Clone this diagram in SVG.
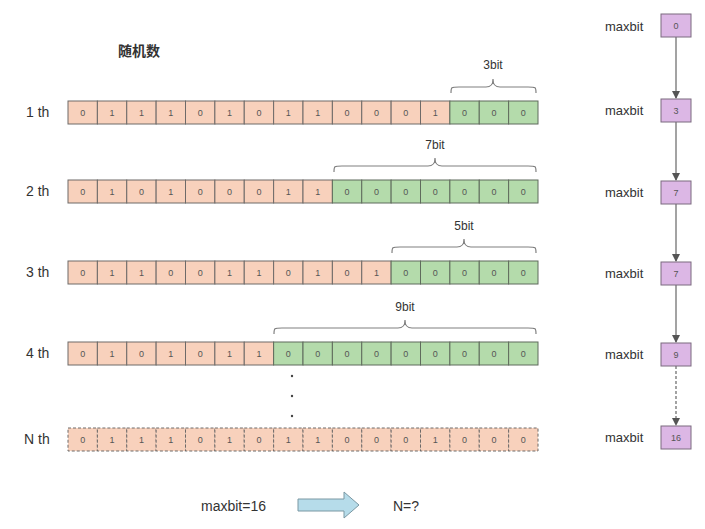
<svg xmlns="http://www.w3.org/2000/svg" width="705" height="529" viewBox="0 0 705 529">
<style>
text{font-family:"Liberation Sans","Noto Sans CJK SC",Arial,sans-serif;fill:#333}
.p{fill:#f8d1bc;stroke:#6e6a68;stroke-width:1}
.g{fill:#b4dbab;stroke:#5f6b5c;stroke-width:1}
.d{stroke-dasharray:3,2}
.c{font-size:9px;text-anchor:middle;fill:#555}
.lbl{font-size:14px}
.br{fill:none;stroke:#808080;stroke-width:1.2}
.bt{font-size:12px;text-anchor:middle}
.nb{fill:#dcb7e5;stroke:#7b6a7f;stroke-width:1}
.nt{font-size:9px;text-anchor:middle;fill:#555}
.ml{font-size:13px}
.cn{stroke:#666;stroke-width:1.2;fill:none}
</style>
<defs>
<marker id="ah" markerWidth="8" markerHeight="8" refX="7" refY="4" orient="auto" markerUnits="userSpaceOnUse">
<path d="M0,0 L8,4 L0,8 Z" fill="#555"/>
</marker>
</defs>
<text x="118" y="56" font-size="14" font-weight="bold">随机数</text>
<g id="row1" transform="translate(0,101)">
<text class="lbl" x="26" y="16">1 th</text>
<rect class="p" x="68" y="0" width="29.375" height="23"/><rect class="p" x="97.375" y="0" width="29.375" height="23"/><rect class="p" x="126.75" y="0" width="29.375" height="23"/><rect class="p" x="156.125" y="0" width="29.375" height="23"/><rect class="p" x="185.5" y="0" width="29.375" height="23"/><rect class="p" x="214.875" y="0" width="29.375" height="23"/><rect class="p" x="244.25" y="0" width="29.375" height="23"/><rect class="p" x="273.625" y="0" width="29.375" height="23"/><rect class="p" x="303" y="0" width="29.375" height="23"/><rect class="p" x="332.375" y="0" width="29.375" height="23"/><rect class="p" x="361.75" y="0" width="29.375" height="23"/><rect class="p" x="391.125" y="0" width="29.375" height="23"/><rect class="p" x="420.5" y="0" width="29.375" height="23"/><rect class="g" x="449.875" y="0" width="29.375" height="23"/><rect class="g" x="479.25" y="0" width="29.375" height="23"/><rect class="g" x="508.625" y="0" width="29.375" height="23"/>
<text class="c" x="82.7" y="15">0</text><text class="c" x="112.1" y="15">1</text><text class="c" x="141.4" y="15">1</text><text class="c" x="170.8" y="15">1</text><text class="c" x="200.2" y="15">0</text><text class="c" x="229.6" y="15">1</text><text class="c" x="258.9" y="15">0</text><text class="c" x="288.3" y="15">1</text><text class="c" x="317.7" y="15">1</text><text class="c" x="347.1" y="15">0</text><text class="c" x="376.4" y="15">0</text><text class="c" x="405.8" y="15">0</text><text class="c" x="435.2" y="15">1</text><text class="c" x="464.6" y="15">0</text><text class="c" x="493.9" y="15">0</text><text class="c" x="523.3" y="15">0</text>
<path class="br" d="M451,-8 C451,-14 451,-14 459,-14 L486,-14 C491,-14 493,-16 493,-22 C493,-16 495,-14 500,-14 L528,-14 C536,-14 536,-14 536,-8"/>
<text class="bt" x="493" y="-32">3bit</text>
</g>
<g id="row2" transform="translate(0,180)">
<text class="lbl" x="26" y="16">2 th</text>
<rect class="p" x="68" y="0" width="29.375" height="23"/><rect class="p" x="97.375" y="0" width="29.375" height="23"/><rect class="p" x="126.75" y="0" width="29.375" height="23"/><rect class="p" x="156.125" y="0" width="29.375" height="23"/><rect class="p" x="185.5" y="0" width="29.375" height="23"/><rect class="p" x="214.875" y="0" width="29.375" height="23"/><rect class="p" x="244.25" y="0" width="29.375" height="23"/><rect class="p" x="273.625" y="0" width="29.375" height="23"/><rect class="p" x="303" y="0" width="29.375" height="23"/><rect class="g" x="332.375" y="0" width="29.375" height="23"/><rect class="g" x="361.75" y="0" width="29.375" height="23"/><rect class="g" x="391.125" y="0" width="29.375" height="23"/><rect class="g" x="420.5" y="0" width="29.375" height="23"/><rect class="g" x="449.875" y="0" width="29.375" height="23"/><rect class="g" x="479.25" y="0" width="29.375" height="23"/><rect class="g" x="508.625" y="0" width="29.375" height="23"/>
<text class="c" x="82.7" y="15">0</text><text class="c" x="112.1" y="15">1</text><text class="c" x="141.4" y="15">0</text><text class="c" x="170.8" y="15">1</text><text class="c" x="200.2" y="15">0</text><text class="c" x="229.6" y="15">0</text><text class="c" x="258.9" y="15">0</text><text class="c" x="288.3" y="15">1</text><text class="c" x="317.7" y="15">1</text><text class="c" x="347.1" y="15">0</text><text class="c" x="376.4" y="15">0</text><text class="c" x="405.8" y="15">0</text><text class="c" x="435.2" y="15">0</text><text class="c" x="464.6" y="15">0</text><text class="c" x="493.9" y="15">0</text><text class="c" x="523.3" y="15">0</text>
<path class="br" d="M334,-8 C334,-14 334,-14 342,-14 L428,-14 C433,-14 435,-16 435,-22 C435,-16 437,-14 442,-14 L528,-14 C536,-14 536,-14 536,-8"/>
<text class="bt" x="435" y="-31">7bit</text>
</g>
<g id="row3" transform="translate(0,261)">
<text class="lbl" x="26" y="16">3 th</text>
<rect class="p" x="68" y="0" width="29.375" height="23"/><rect class="p" x="97.375" y="0" width="29.375" height="23"/><rect class="p" x="126.75" y="0" width="29.375" height="23"/><rect class="p" x="156.125" y="0" width="29.375" height="23"/><rect class="p" x="185.5" y="0" width="29.375" height="23"/><rect class="p" x="214.875" y="0" width="29.375" height="23"/><rect class="p" x="244.25" y="0" width="29.375" height="23"/><rect class="p" x="273.625" y="0" width="29.375" height="23"/><rect class="p" x="303" y="0" width="29.375" height="23"/><rect class="p" x="332.375" y="0" width="29.375" height="23"/><rect class="p" x="361.75" y="0" width="29.375" height="23"/><rect class="g" x="391.125" y="0" width="29.375" height="23"/><rect class="g" x="420.5" y="0" width="29.375" height="23"/><rect class="g" x="449.875" y="0" width="29.375" height="23"/><rect class="g" x="479.25" y="0" width="29.375" height="23"/><rect class="g" x="508.625" y="0" width="29.375" height="23"/>
<text class="c" x="82.7" y="15">0</text><text class="c" x="112.1" y="15">1</text><text class="c" x="141.4" y="15">1</text><text class="c" x="170.8" y="15">0</text><text class="c" x="200.2" y="15">0</text><text class="c" x="229.6" y="15">1</text><text class="c" x="258.9" y="15">1</text><text class="c" x="288.3" y="15">0</text><text class="c" x="317.7" y="15">1</text><text class="c" x="347.1" y="15">0</text><text class="c" x="376.4" y="15">1</text><text class="c" x="405.8" y="15">0</text><text class="c" x="435.2" y="15">0</text><text class="c" x="464.6" y="15">0</text><text class="c" x="493.9" y="15">0</text><text class="c" x="523.3" y="15">0</text>
<path class="br" d="M392,-8 C392,-14 392,-14 400,-14 L457,-14 C462,-14 464,-16 464,-22 C464,-16 466,-14 471,-14 L528,-14 C536,-14 536,-14 536,-8"/>
<text class="bt" x="464" y="-31">5bit</text>
</g>
<g id="row4" transform="translate(0,342)">
<text class="lbl" x="26" y="16">4 th</text>
<rect class="p" x="68" y="0" width="29.375" height="23"/><rect class="p" x="97.375" y="0" width="29.375" height="23"/><rect class="p" x="126.75" y="0" width="29.375" height="23"/><rect class="p" x="156.125" y="0" width="29.375" height="23"/><rect class="p" x="185.5" y="0" width="29.375" height="23"/><rect class="p" x="214.875" y="0" width="29.375" height="23"/><rect class="p" x="244.25" y="0" width="29.375" height="23"/><rect class="g" x="273.625" y="0" width="29.375" height="23"/><rect class="g" x="303" y="0" width="29.375" height="23"/><rect class="g" x="332.375" y="0" width="29.375" height="23"/><rect class="g" x="361.75" y="0" width="29.375" height="23"/><rect class="g" x="391.125" y="0" width="29.375" height="23"/><rect class="g" x="420.5" y="0" width="29.375" height="23"/><rect class="g" x="449.875" y="0" width="29.375" height="23"/><rect class="g" x="479.25" y="0" width="29.375" height="23"/><rect class="g" x="508.625" y="0" width="29.375" height="23"/>
<text class="c" x="82.7" y="15">0</text><text class="c" x="112.1" y="15">1</text><text class="c" x="141.4" y="15">0</text><text class="c" x="170.8" y="15">1</text><text class="c" x="200.2" y="15">0</text><text class="c" x="229.6" y="15">1</text><text class="c" x="258.9" y="15">1</text><text class="c" x="288.3" y="15">0</text><text class="c" x="317.7" y="15">0</text><text class="c" x="347.1" y="15">0</text><text class="c" x="376.4" y="15">0</text><text class="c" x="405.8" y="15">0</text><text class="c" x="435.2" y="15">0</text><text class="c" x="464.6" y="15">0</text><text class="c" x="493.9" y="15">0</text><text class="c" x="523.3" y="15">0</text>
<path class="br" d="M274,-8 C274,-14 274,-14 282,-14 L398,-14 C403,-14 405,-16 405,-22 C405,-16 407,-14 412,-14 L528,-14 C536,-14 536,-14 536,-8"/>
<text class="bt" x="405" y="-31">9bit</text>
</g>
<g id="dots" fill="#444">
<circle cx="292" cy="376" r="1.2"/><circle cx="292" cy="396" r="1.2"/><circle cx="292" cy="416" r="1.2"/>
</g>
<g id="rowN" transform="translate(0,428)">
<text class="lbl" x="24" y="16">N th</text>
<rect class="p d" x="68" y="0" width="29.375" height="23"/><rect class="p d" x="97.375" y="0" width="29.375" height="23"/><rect class="p d" x="126.75" y="0" width="29.375" height="23"/><rect class="p d" x="156.125" y="0" width="29.375" height="23"/><rect class="p d" x="185.5" y="0" width="29.375" height="23"/><rect class="p d" x="214.875" y="0" width="29.375" height="23"/><rect class="p d" x="244.25" y="0" width="29.375" height="23"/><rect class="p d" x="273.625" y="0" width="29.375" height="23"/><rect class="p d" x="303" y="0" width="29.375" height="23"/><rect class="p d" x="332.375" y="0" width="29.375" height="23"/><rect class="p d" x="361.75" y="0" width="29.375" height="23"/><rect class="p d" x="391.125" y="0" width="29.375" height="23"/><rect class="p d" x="420.5" y="0" width="29.375" height="23"/><rect class="p d" x="449.875" y="0" width="29.375" height="23"/><rect class="p d" x="479.25" y="0" width="29.375" height="23"/><rect class="p d" x="508.625" y="0" width="29.375" height="23"/>
<text class="c" x="82.7" y="15">0</text><text class="c" x="112.1" y="15">1</text><text class="c" x="141.4" y="15">1</text><text class="c" x="170.8" y="15">1</text><text class="c" x="200.2" y="15">0</text><text class="c" x="229.6" y="15">1</text><text class="c" x="258.9" y="15">0</text><text class="c" x="288.3" y="15">1</text><text class="c" x="317.7" y="15">1</text><text class="c" x="347.1" y="15">0</text><text class="c" x="376.4" y="15">0</text><text class="c" x="405.8" y="15">0</text><text class="c" x="435.2" y="15">1</text><text class="c" x="464.6" y="15">0</text><text class="c" x="493.9" y="15">0</text><text class="c" x="523.3" y="15">0</text>
</g>
<g id="connectors">
<line class="cn" x1="676" y1="37" x2="676" y2="98" marker-end="url(#ah)"/>
<line class="cn" x1="676" y1="122" x2="676" y2="180" marker-end="url(#ah)"/>
<line class="cn" x1="676" y1="204" x2="676" y2="261" marker-end="url(#ah)"/>
<line class="cn" x1="676" y1="285" x2="676" y2="342" marker-end="url(#ah)"/>
<line class="cn" x1="676" y1="366" x2="676" y2="425" stroke-dasharray="3,2" marker-end="url(#ah)"/>
</g>
<g id="node0"><text class="ml" x="605" y="31">maxbit</text><rect class="nb" x="661" y="14" width="30" height="23"/><text class="nt" x="676" y="29">0</text></g>
<g id="node1"><text class="ml" x="605" y="115">maxbit</text><rect class="nb" x="661" y="99" width="30" height="23"/><text class="nt" x="676" y="114">3</text></g>
<g id="node2"><text class="ml" x="605" y="197">maxbit</text><rect class="nb" x="661" y="181" width="30" height="23"/><text class="nt" x="676" y="196">7</text></g>
<g id="node3"><text class="ml" x="605" y="278">maxbit</text><rect class="nb" x="661" y="262" width="30" height="23"/><text class="nt" x="676" y="277">7</text></g>
<g id="node4"><text class="ml" x="605" y="359">maxbit</text><rect class="nb" x="661" y="343" width="30" height="23"/><text class="nt" x="676" y="358">9</text></g>
<g id="node5"><text class="ml" x="605" y="442">maxbit</text><rect class="nb" x="661" y="426" width="30" height="23"/><text class="nt" x="676" y="441">16</text></g>
<g id="bottom">
<text x="201" y="511" font-size="14">maxbit=16</text>
<path d="M298,499 L344,499 L344,492 L359,505 L344,518 L344,511 L298,511 Z" fill="#b6dcea" stroke="#7b98a3" stroke-width="1"/>
<text x="393" y="511" font-size="14">N=?</text>
</g>
</svg>
